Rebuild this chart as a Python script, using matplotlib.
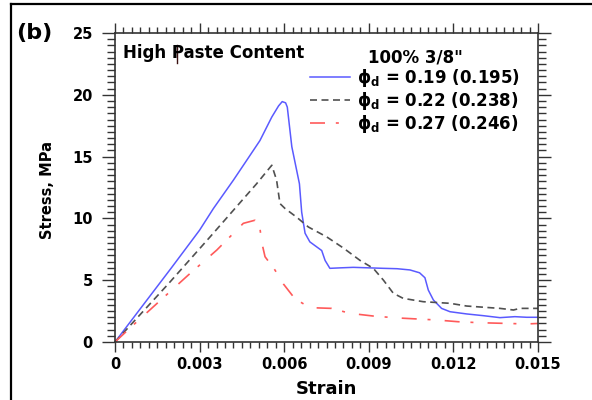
import matplotlib
matplotlib.use("Agg")
import matplotlib.pyplot as plt
from matplotlib.lines import Line2D
from matplotlib.ticker import MultipleLocator

# ---- data ----
blue_strain = [0, 0.0010, 0.0020, 0.0030, 0.00349, 0.00420, 0.00470, 0.00514, 0.00556,
               0.00580, 0.00593, 0.00605, 0.00611, 0.00627, 0.00654, 0.00662, 0.00674,
               0.00691, 0.00733, 0.00745, 0.00762, 0.00800, 0.00845, 0.00900, 0.00952,
               0.01000, 0.01046, 0.01080, 0.01099, 0.01111, 0.01129, 0.01158, 0.01188,
               0.01247, 0.01306, 0.01365, 0.01418, 0.01460, 0.01500]
blue_stress = [0, 3.0, 6.0, 9.05, 10.8, 13.1, 14.8, 16.3, 18.2,
               19.1, 19.45, 19.35, 19.0, 15.8, 12.8, 10.5, 8.8,
               8.1, 7.4, 6.6, 5.96, 6.0, 6.04, 6.0, 5.96,
               5.93, 5.83, 5.6, 5.2, 4.2, 3.4, 2.72, 2.45,
               2.27, 2.13, 1.97, 2.05, 2.0, 2.0]

black_strain = [0, 0.00189, 0.00337, 0.00502, 0.00556, 0.00573, 0.00585, 0.00603,
                0.00644, 0.00686, 0.00751, 0.00810, 0.00869, 0.00916, 0.00952, 0.00987,
                0.01022, 0.01093, 0.01188, 0.01247, 0.01365, 0.01413, 0.01436, 0.01500]
black_stress = [0, 4.7, 8.5, 12.8, 14.3, 13.1, 11.2, 10.8,
                10.1, 9.3, 8.5, 7.6, 6.6, 5.96, 5.0, 3.94,
                3.53, 3.26, 3.13, 2.91, 2.72, 2.59, 2.72, 2.72]

red_strain = [0, 0.00065, 0.0026, 0.00361, 0.00455, 0.00496, 0.00514, 0.0052, 0.00532,
              0.00567, 0.00597, 0.00638, 0.00691, 0.00768, 0.00833, 0.00916, 0.00999,
              0.01141, 0.01217, 0.01294, 0.01377, 0.0146, 0.015]
red_stress = [0, 1.38, 5.42, 7.44, 9.6, 9.85, 9.2, 8.1, 6.9,
              5.83, 4.7, 3.5, 2.78, 2.72, 2.32, 2.1, 1.95,
              1.78, 1.64, 1.56, 1.51, 1.46, 1.5]

series_labels = ["\u03d5$_\\mathbf{d}$ = 0.19 (0.195)",
                 "\u03d5$_\\mathbf{d}$ = 0.22 (0.238)",
                 "\u03d5$_\\mathbf{d}$ = 0.27 (0.246)"]
legend_title = '100% 3/8"'
x_ticks = [0, 0.003, 0.006, 0.009, 0.012, 0.015]
x_ticklabels = ["0", "0.003", "0.006", "0.009", "0.012", "0.015"]
y_ticks = [0, 5, 10, 15, 20, 25]
y_ticklabels = ["0", "5", "10", "15", "20", "25"]

# ---- figure ----
plt.rcParams['font.family'] = ['DejaVu Sans']
plt.rcParams['mathtext.fontset'] = 'dejavusans'
W, H = 592, 400
fig = plt.figure(figsize=(W / 100, H / 100), dpi=100)
ax = fig.add_axes([115 / W, 1 - 342 / H, (538 - 115) / W, (342 - 33) / H])

ax.plot(blue_strain, blue_stress, color='#5a5aff', lw=1.1, label=series_labels[0])
ax.plot(black_strain, black_stress, color='#505050', lw=1.2,
        linestyle=(0, (4.2, 2.7)), label=series_labels[1])
ax.plot(red_strain, red_stress, color='#ff5a5a', lw=1.2,
        linestyle=(0, (9, 6.5, 1.8, 8.5)), label=series_labels[2])

ax.set_xlim(0, 0.015)
ax.set_ylim(0, 25)
ax.set_xticks(x_ticks)
ax.set_xticklabels(x_ticklabels)
ax.set_yticks(y_ticks)
ax.set_yticklabels(y_ticklabels)
ax.xaxis.set_minor_locator(MultipleLocator(0.0003))
ax.yaxis.set_minor_locator(MultipleLocator(0.5))

for sp in ax.spines.values():
    sp.set_linewidth(1.2)
    sp.set_color('#333333')

ax.tick_params(axis='x', which='both', direction='out', top=True, bottom=True,
               labeltop=False, color='#333333', width=1.0)
ax.tick_params(axis='y', which='both', direction='out', left=True, right=True,
               labelright=False, color='#333333', width=1.0)
ax.tick_params(axis='x', which='major', length=7.5, pad=3, labelsize=10.5)
ax.tick_params(axis='x', which='minor', length=4.3)
ax.tick_params(axis='y', which='major', length=9.5, pad=6.5, labelsize=10.5)
ax.tick_params(axis='y', which='minor', length=5.8)
for lab in ax.get_xticklabels() + ax.get_yticklabels():
    lab.set_fontweight('bold')

# axis labels
fig.text(326 / W, 1 - 389 / H, "Strain", ha='center', va='center',
         fontsize=13, fontweight='bold')
fig.text(47 / W, 1 - 190 / H, "Stress, MPa", ha='center', va='center',
         rotation=90, fontsize=10.5, fontweight='bold')

# panel label
fig.text(16 / W, 1 - 33 / H, "(b)", ha='left', va='center',
         fontsize=16, fontweight='bold')

# in-plot title
fig.text(123 / W, 1 - 57.5 / H, "High Paste Content", ha='left', va='baseline',
         fontsize=12, fontweight='bold')
fig.add_artist(Line2D([177 / W, 177 / W], [1 - 45 / H, 1 - 63 / H],
                      color='#3a1010', lw=1.0))

# legend
leg = ax.legend(title=legend_title, loc='upper center',
                bbox_to_anchor=(415 / W, 1 - 40 / H), bbox_transform=fig.transFigure,
                frameon=False, borderpad=0, handlelength=2.4, handletextpad=0.4,
                labelspacing=0.05, prop={'weight': 'bold', 'size': 12},
                title_fontproperties={'weight': 'bold', 'size': 12})

# figure frame (top and left edges)
fig.add_artist(Line2D([11 / W, 11 / W], [0, 1 - 4 / H], color='black', lw=1.6))
fig.add_artist(Line2D([11 / W, 1], [1 - 4 / H, 1 - 4 / H], color='black', lw=1.6))

fig.savefig("out.png", dpi=100)
